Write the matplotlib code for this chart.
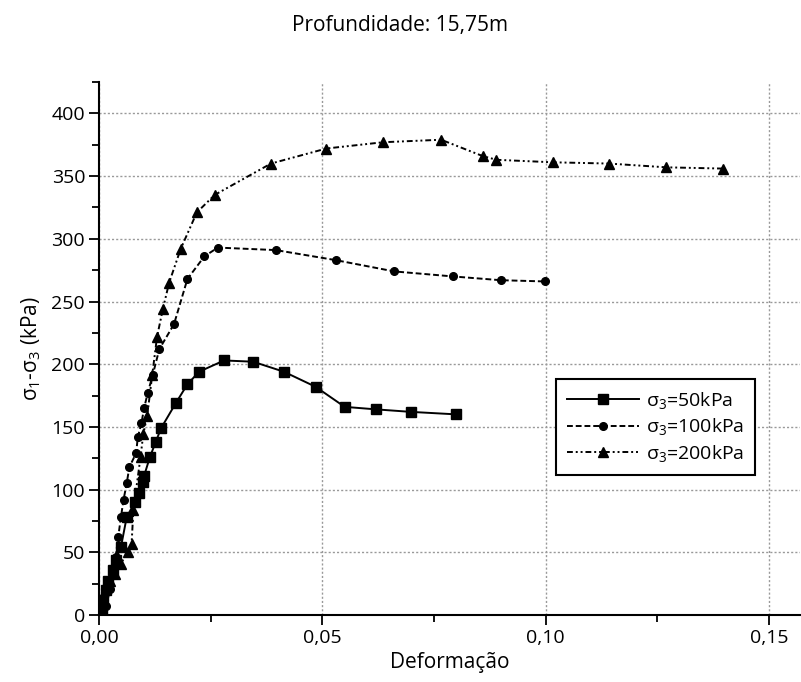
import matplotlib
matplotlib.use("Agg")
import matplotlib.pyplot as plt
from matplotlib.ticker import MultipleLocator, FuncFormatter

plt.rcParams["font.family"] = ["Open Sans", "DejaVu Sans"]
plt.rcParams["mathtext.fontset"] = "custom"
plt.rcParams["mathtext.rm"] = "Open Sans"
plt.rcParams["mathtext.it"] = "Open Sans"

# sigma3 = 50 kPa
x50 = [0, 0.0007, 0.0010, 0.0016, 0.0021, 0.0031, 0.0037, 0.0049, 0.0062, 0.0080,
       0.0089, 0.0098, 0.0101, 0.0114, 0.0127, 0.0139, 0.0172, 0.0198, 0.0224,
       0.0280, 0.0345, 0.0414, 0.0485, 0.0550, 0.0620, 0.0698, 0.0800]
y50 = [0, 2, 12, 20, 27, 36, 44, 54, 78, 90, 97, 106, 111, 126, 138, 149, 169,
       184, 194, 203, 202, 194, 182, 166, 164, 162, 160]

# sigma3 = 100 kPa
x100 = [0, 0.0016, 0.0025, 0.0037, 0.0043, 0.0049, 0.0055, 0.0062, 0.0068, 0.0083,
        0.0087, 0.0095, 0.0101, 0.0109, 0.0120, 0.0135, 0.0168, 0.0198, 0.0236,
        0.0266, 0.0396, 0.0530, 0.0661, 0.0792, 0.0899, 0.0998]
y100 = [0, 7, 21, 46, 62, 78, 92, 105, 118, 129, 142, 153, 165, 177, 191, 212,
        232, 268, 286, 293, 291, 283, 274, 270, 267, 266]

# sigma3 = 200 kPa
x200 = [0, 0.0003, 0.0010, 0.0016, 0.0025, 0.0036, 0.0049, 0.0064, 0.0073, 0.0077,
        0.0093, 0.0099, 0.0108, 0.0119, 0.0130, 0.0143, 0.0157, 0.0183, 0.0219,
        0.0259, 0.0385, 0.0509, 0.0636, 0.0766, 0.0859, 0.0890, 0.1017, 0.1142,
        0.1270, 0.1397]
y200 = [0, 5, 16, 22, 27, 33, 41, 50, 57, 84, 126, 144, 159, 191, 222, 244, 265,
        292, 321, 335, 360, 372, 377, 379, 366, 363, 361, 360, 357, 356]

labels = ["σ$_3$=50kPa", "σ$_3$=100kPa", "σ$_3$=200kPa"]

fig = plt.figure(figsize=(8.01, 6.82), dpi=100)
ax = fig.add_axes([0.1236, 0.0982, 0.8754, 0.7815])

ax.plot(x50, y50, color="black", linestyle="-", linewidth=1.4,
        marker="s", markersize=6.5, label=labels[0])
ax.plot(x100, y100, color="black", linestyle=(0, (3, 1.5)), linewidth=1.4,
        marker="o", markersize=5.5, label=labels[1])
ax.plot(x200, y200, color="black", linestyle=(0, (3, 1.5, 1, 1.5, 1, 1.5)),
        linewidth=1.4, marker="^", markersize=7.5, label=labels[2])

ax.set_xlim(0, 0.157)
ax.set_ylim(0, 425)
ax.xaxis.set_major_locator(MultipleLocator(0.05))
ax.xaxis.set_minor_locator(MultipleLocator(0.025))
ax.yaxis.set_major_locator(MultipleLocator(50))
ax.yaxis.set_minor_locator(MultipleLocator(25))
ax.xaxis.set_major_formatter(FuncFormatter(lambda v, p: f"{v:.2f}".replace(".", ",")))

ax.grid(which="major", color="#999999", linestyle=(0, (1.5, 1.5)), linewidth=1)
ax.set_axisbelow(True)

for s in ["top", "right"]:
    ax.spines[s].set_visible(False)
for s in ["left", "bottom"]:
    ax.spines[s].set_linewidth(1.5)
ax.tick_params(which="major", length=7, width=1.3, labelsize=14, direction="out",
               colors="black", pad=3)
ax.tick_params(which="minor", length=5, width=1.3, direction="out")

ax.set_xlabel("Deformação", fontsize=15, labelpad=4)
ax.set_ylabel("σ$_1$-σ$_3$ (kPa)", fontsize=15, labelpad=6)
fig.text(0.5, 0.963, "Profundidade: 15,75m", ha="center", va="center", fontsize=15)

leg = ax.legend(loc="upper left", bbox_to_anchor=(0.652, 0.443), fontsize=14,
                frameon=True, fancybox=False, edgecolor="black", framealpha=1,
                handlelength=3.7, borderpad=0.55, labelspacing=0.3,
                handletextpad=0.35, borderaxespad=0)
leg.get_frame().set_linewidth(1.5)

fig.savefig("out.png", dpi=100)
